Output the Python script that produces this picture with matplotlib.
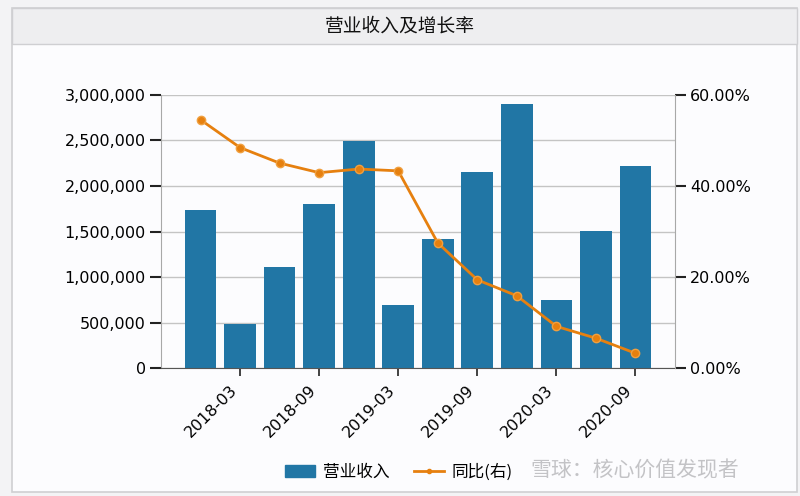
import matplotlib
matplotlib.use("Agg")
import matplotlib.pyplot as plt
from matplotlib.patches import Rectangle, Patch
from matplotlib.lines import Line2D
from matplotlib.ticker import FuncFormatter, MultipleLocator

plt.rcParams['font.family'] = ['DejaVu Sans', 'Noto Sans CJK SC']

categories = ['2017-12', '2018-03', '2018-06', '2018-09', '2018-12', '2019-03',
              '2019-06', '2019-09', '2019-12', '2020-03', '2020-06', '2020-09']
revenue = [1740000, 485000, 1110000, 1800000, 2495000, 690000,
           1415000, 2155000, 2895000, 752000, 1510000, 2218000]
growth = [54.5, 48.4, 45.0, 42.9, 43.7, 43.3, 27.5, 19.4, 15.9, 9.2, 6.6, 3.3]
tick_labels = ['2018-03', '2018-09', '2019-03', '2019-09', '2020-03', '2020-09']

BAR = '#2176a5'
ORANGE = '#e6800f'
CJK = ['Noto Sans CJK SC', 'DejaVu Sans']

W, H = 800, 496
fig = plt.figure(figsize=(8, 4.96), dpi=100)
fig.patch.set_facecolor('#f3f3f5')

def px(x0, y0, x1, y1, **kw):
    fig.patches.append(Rectangle((x0 / W, 1 - y1 / H), (x1 - x0) / W, (y1 - y0) / H,
                                 transform=fig.transFigure, zorder=-10, **kw))

# outer panel
px(12, 8, 797, 492, facecolor='#fcfcfe', edgecolor='#cfcfd2', linewidth=1.2)
# title bar
px(12, 8, 797, 44, facecolor='#eeeef0', edgecolor='#cfcfd2', linewidth=1.0)
fig.text(400 / W, 1 - 26 / H, '营业收入及增长率', ha='center', va='center',
         fontsize=13.5, family=CJK, color='#111111')

ax = fig.add_axes([161 / W, 1 - 368.3 / H, (675 - 161) / W, (368.3 - 94.7) / H])
ax.set_facecolor('none')
x = list(range(len(categories)))
ax.bar(x, revenue, width=0.8, color=BAR, zorder=2)
ax.set_xlim(-1, 12)
ax.set_ylim(0, 3000000)
ax.yaxis.set_major_locator(MultipleLocator(500000))
ax.yaxis.set_major_formatter(FuncFormatter(lambda v, p: f'{int(v):,}'))
ax.grid(axis='y', color='#c4c4c4', linewidth=1.0, zorder=0)
ax.set_axisbelow(True)

tick_pos = [categories.index(t) for t in tick_labels]
ax.set_xticks(tick_pos)
ax.set_xticklabels(tick_labels, rotation=45, ha='right', rotation_mode='default')
ax.tick_params(axis='x', length=6, width=1.2, color='#222222', labelsize=11.5, pad=4)
ax.tick_params(axis='y', length=8, width=1.5, color='#222222', labelsize=11.5, pad=3)

for s in ['top', 'right']:
    ax.spines[s].set_visible(False)
ax.spines['left'].set_color('#a8a8a8')
ax.spines['bottom'].set_color('#555555')

ax2 = ax.twinx()
ax2.plot(x, growth, color=ORANGE, linewidth=2, marker='o', markersize=6,
         markerfacecolor=ORANGE, markeredgecolor='#f0a040', zorder=3)
ax2.set_ylim(0, 60)
ax2.yaxis.set_major_locator(MultipleLocator(20))
ax2.yaxis.set_major_formatter(FuncFormatter(lambda v, p: f'{v:.2f}%'))
ax2.tick_params(axis='y', length=8, width=1.5, color='#222222', labelsize=11.5, pad=3)
for s in ['top', 'left', 'bottom']:
    ax2.spines[s].set_visible(False)
ax2.spines['right'].set_color('#a8a8a8')

handles = [Patch(facecolor=BAR, edgecolor=BAR),
           Line2D([0], [0], color=ORANGE, linewidth=2, marker='o', markersize=3)]
leg = fig.legend(handles, ['营业收入', '同比(右)'], loc='center left',
                 bbox_to_anchor=(270 / W, 1 - 472 / H), ncol=2, frameon=False,
                 prop={'family': CJK, 'size': 12}, handlelength=1.8,
                 handleheight=0.75, handletextpad=0.45, columnspacing=1.5)

fig.text(530 / W, 1 - 470 / H, '雪球：核心价值发现者', ha='left', va='center',
         fontsize=15, family=CJK, color='#bdbdc0', alpha=0.9)

fig.savefig('out.png', dpi=100, facecolor=fig.get_facecolor())
